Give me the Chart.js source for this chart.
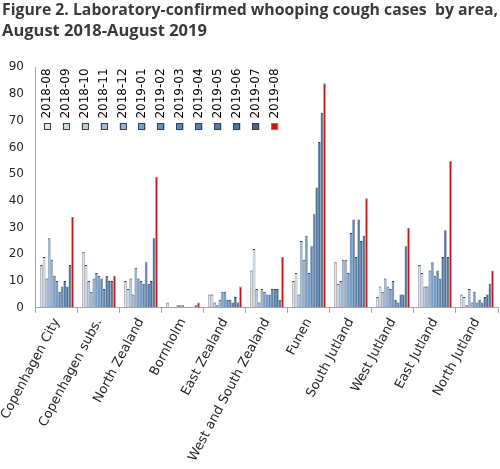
<!DOCTYPE html>
<html lang="en">
<head>
  <meta charset="UTF-8" />
  <title>Whooping cough cases by area</title>
  <script src="https://cdn.jsdelivr.net/npm/chart.js"></script>
  <style>
    body {
      margin: 0;
      padding: 0;
      background-color: #fff;
    }
    .container {
      position: relative;
      width: 500px;
      height: 469px;
    }
  </style>
</head>
<body>
  <div class="container">
    <canvas id="casesChart"></canvas>
  </div>

  <script>
    const areas = ['Copenhagen City', 'Copenhagen subs.', 'North Zealand', 'Bornholm', 'East Zealand',
      'West and South Zealand', 'Funen', 'South Jutland', 'West Jutland', 'East Jutland', 'North Jutland'];
    const months = ['2018-08', '2018-09', '2018-10', '2018-11', '2018-12', '2019-01', '2019-02',
      '2019-03', '2019-04', '2019-05', '2019-06', '2019-07', '2019-08'];
    const yTicks = [0, 10, 20, 30, 40, 50, 60, 70, 80, 90];

    // cases per area, Aug 2018 .. Aug 2019
    const copenhagenCity  = [16, 19, 11, 26, 18, 12, 10, 6, 8, 10, 8, 16, 34];
    const copenhagenSubs  = [21, 16, 10, 6, 11, 13, 12, 11, 7, 12, 10, 10, 12];
    const northZealand    = [10, 7, 11, 5, 15, 11, 10, 9, 17, 9, 10, 26, 49];
    const bornholm        = [2, 0, 0, 0, 1, 1, 1, 0, 0, 0, 0, 1, 2];
    const eastZealand     = [5, 5, 2, 1, 3, 6, 6, 3, 3, 2, 4, 2, 8];
    const westSouthZealand = [14, 22, 7, 2, 7, 6, 5, 5, 7, 7, 7, 3, 19];
    const funen           = [10, 13, 5, 25, 18, 27, 13, 23, 35, 45, 62, 73, 84];
    const southJutland    = [17, 9, 10, 18, 18, 13, 28, 33, 19, 33, 25, 27, 41];
    const westJutland     = [4, 8, 6, 11, 8, 7, 10, 3, 2, 5, 5, 23, 30];
    const eastJutland     = [16, 13, 8, 8, 14, 17, 12, 14, 11, 19, 29, 19, 55];
    const northJutland    = [5, 4, 1, 7, 2, 6, 2, 3, 2, 4, 5, 9, 14];

    const casesByArea = [copenhagenCity, copenhagenSubs, northZealand, bornholm, eastZealand,
      westSouthZealand, funen, southJutland, westJutland, eastJutland, northJutland];

    const monthColors = ['#dbe5f1', '#c8d7ed', '#b9cde5', '#a4bee0', '#8fb0da', '#76a1d6', '#5a91d0',
      '#5289c8', '#4f82bf', '#4b7ab3', '#4672a6', '#406797', '#ff0000'];

    const datasets = months.map((m, i) => ({
      label: m,
      data: casesByArea.map(a => a[i]),
      backgroundColor: monthColors[i],
      borderColor: i === months.length - 1 ? '#7f7f7f' : '#404040',
      borderWidth: { top: 1, left: 0.5, right: 0.5, bottom: 0 },
      barPercentage: 1,
      categoryPercentage: 0.8
    }));

    // legend with vertical text, drawn inside the plot area
    const verticalLegend = {
      id: 'verticalLegend',
      afterDraw(chart) {
        const ctx = chart.ctx;
        const area = chart.chartArea;
        ctx.save();
        ctx.font = '12px "DejaVu Sans"';
        ctx.textAlign = 'left';
        ctx.textBaseline = 'alphabetic';
        chart.data.datasets.forEach((ds, i) => {
          const x = area.left + 11.2 + i * 18.96;
          const y = area.top + 59.3;
          ctx.fillStyle = ds.backgroundColor;
          ctx.fillRect(x - 3.5, y - 3.5, 7, 7);
          ctx.strokeStyle = ds.borderColor;
          ctx.lineWidth = 1;
          ctx.strokeRect(Math.round(x - 3.5) + 0.5, Math.round(y - 3.5) + 0.5, 6, 6);
          ctx.save();
          ctx.translate(x + 3, area.top + 51.3);
          ctx.rotate(-Math.PI / 2);
          ctx.fillStyle = '#000';
          ctx.fillText(ds.label, 0, 0);
          ctx.restore();
        });
        ctx.restore();
      }
    };

    const ctx = document.getElementById('casesChart').getContext('2d');
    new Chart(ctx, {
      type: 'bar',
      data: { labels: areas, datasets: datasets },
      plugins: [verticalLegend],
      options: {
        responsive: true,
        maintainAspectRatio: false,
        animation: false,
        layout: { padding: { left: 2, right: 2, top: 0, bottom: 2 } },
        plugins: {
          legend: { display: false },
          tooltip: { enabled: false },
          title: {
            display: true,
            text: ['Figure 2. Laboratory-confirmed whooping cough cases  by area,', 'August 2018-August 2019'],
            align: 'start',
            color: '#3a3a3a',
            font: { family: 'Open Sans', size: 16.5, weight: 'bold', lineHeight: 1.25 },
            padding: { top: 0, bottom: 26 }
          }
        },
        scales: {
          x: {
            grid: { drawOnChartArea: false, drawTicks: true, tickLength: 5, color: '#a6a6a6' },
            border: { color: '#a6a6a6' },
            ticks: {
              autoSkip: false,
              minRotation: 62,
              maxRotation: 62,
              color: '#262626',
              font: { family: 'DejaVu Sans', size: 13 }
            }
          },
          y: {
            min: 0,
            max: 90,
            afterBuildTicks: scale => { scale.ticks = yTicks.map(v => ({ value: v })); },
            afterFit: scale => { scale.width = 31; },
            grid: { display: true, drawOnChartArea: false, drawTicks: false },
            border: { color: '#a6a6a6' },
            ticks: {
              padding: 12,
              color: '#262626',
              font: { family: 'DejaVu Sans', size: 12 }
            }
          }
        }
      }
    });
  </script>
</body>
</html>
